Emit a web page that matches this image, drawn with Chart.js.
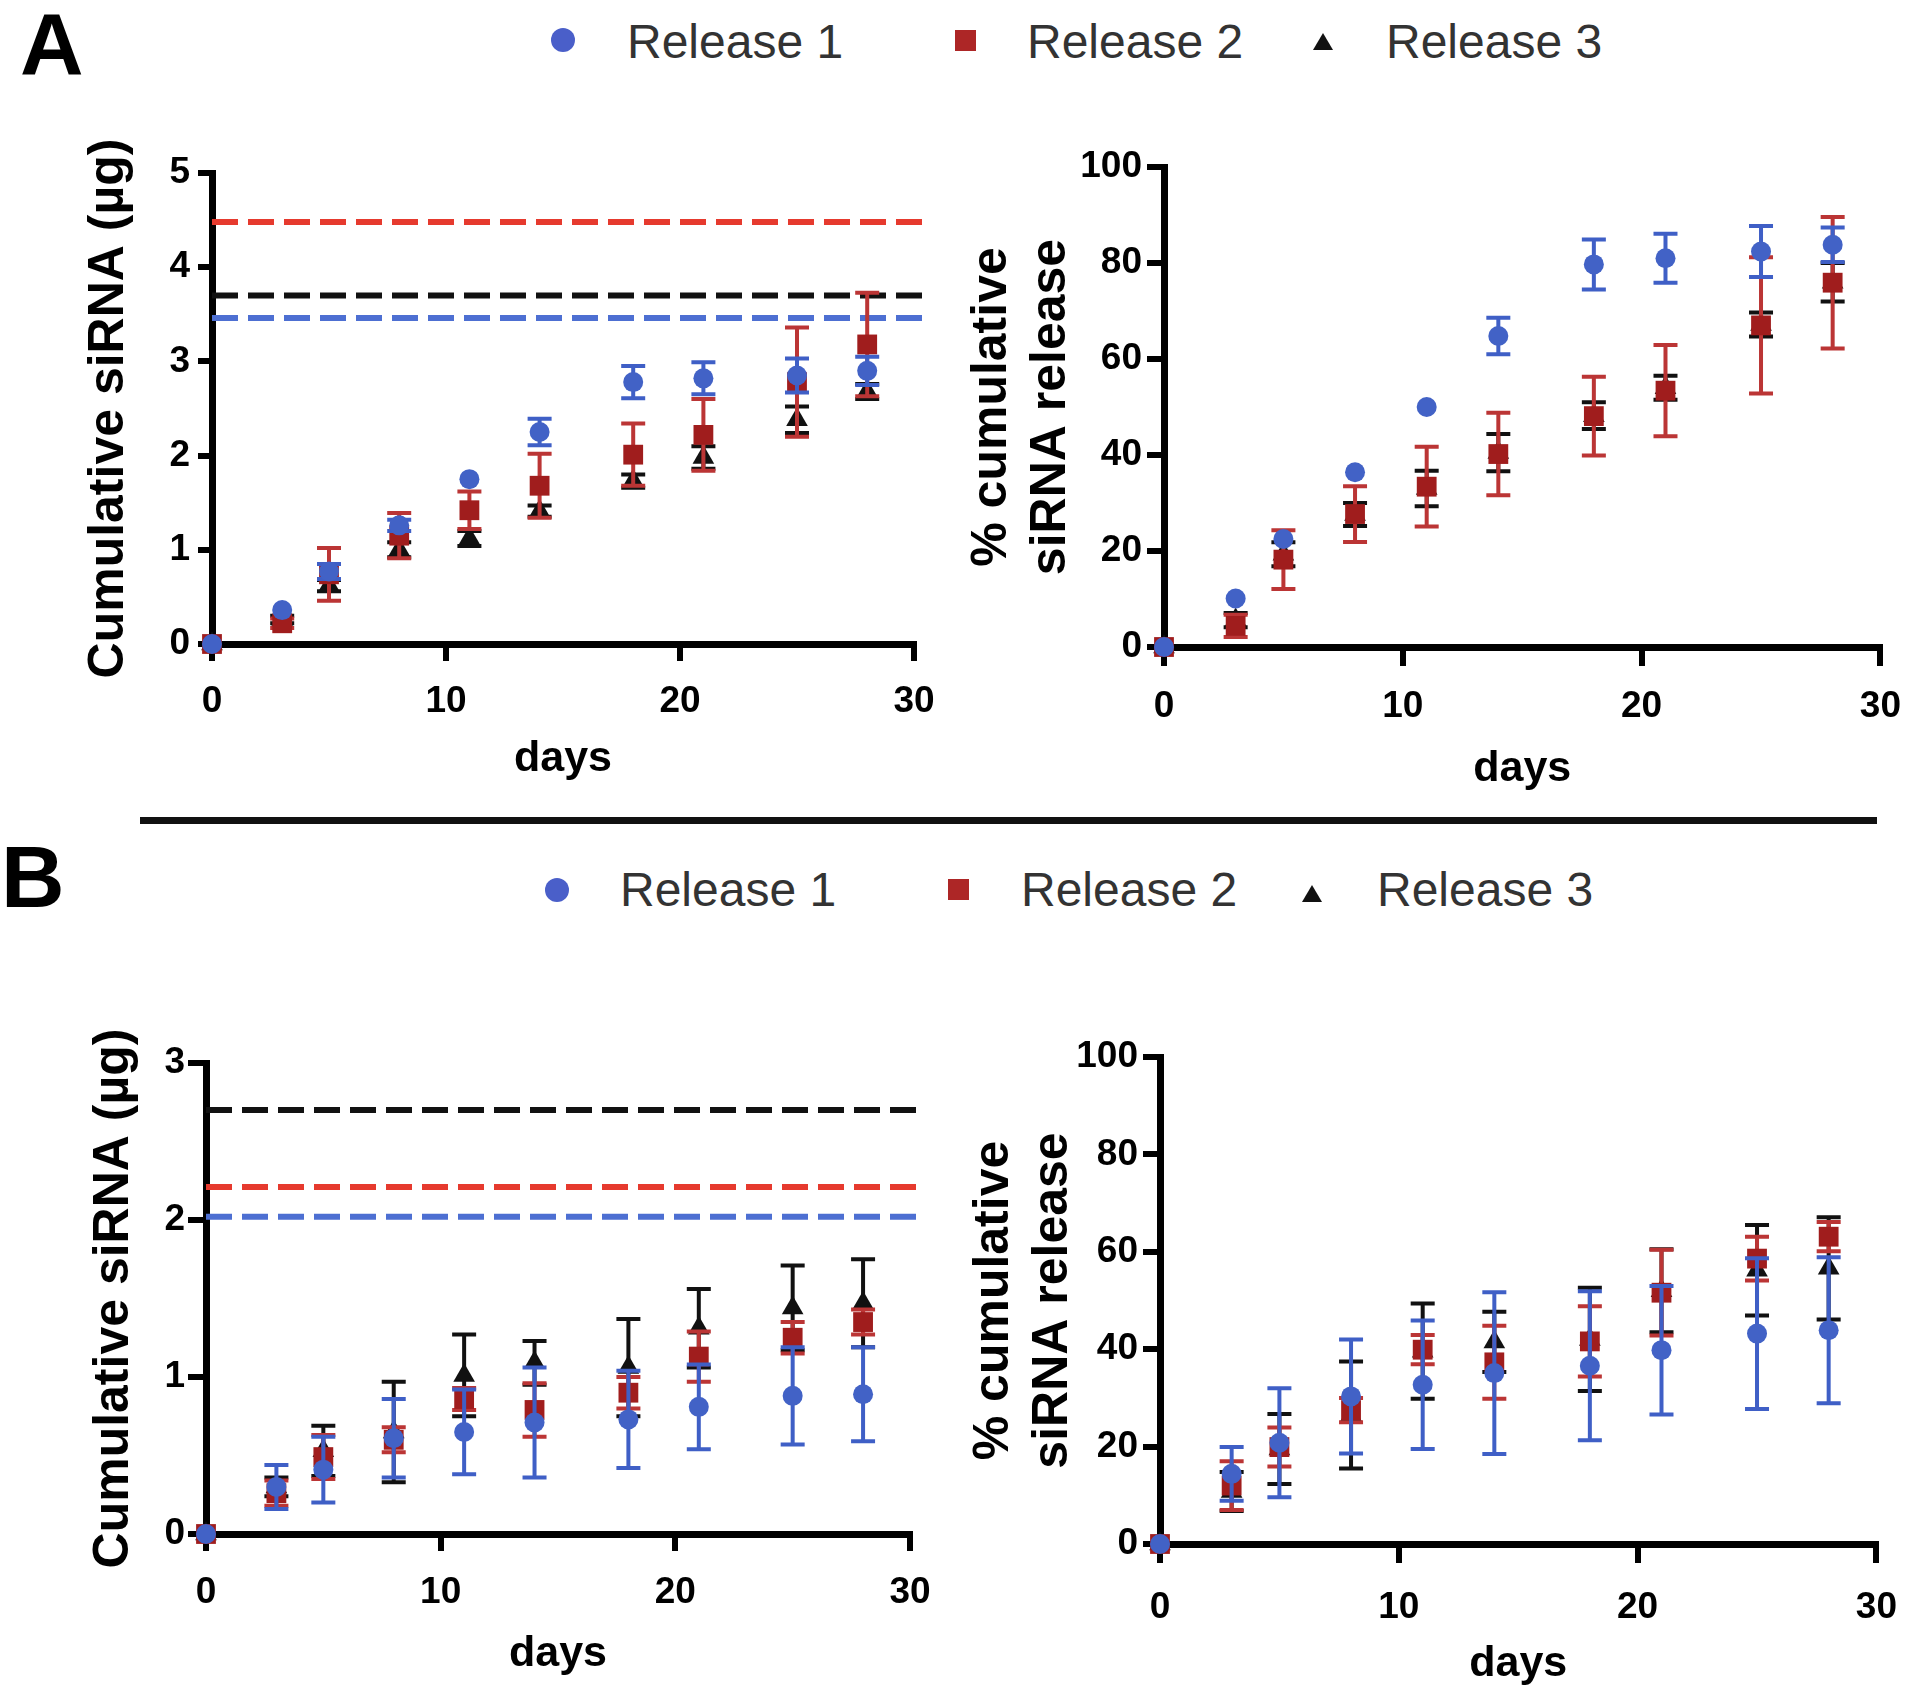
<!DOCTYPE html>
<html>
<head>
<meta charset="utf-8">
<script src="https://cdn.jsdelivr.net/npm/chart.js@4.4.1/dist/chart.umd.min.js"></script>
<style>
    body { margin: 0; background: #fff; width: 1920px; height: 1694px; position: relative; overflow: hidden; font-family: "Liberation Sans", Arial, sans-serif; }
    canvas { position: absolute; }
    .tag { position: absolute; font-weight: bold; font-size: 88px; line-height: 1; color: #000; }
    .leg { position: absolute; font-size: 48px; line-height: 1; color: #333; white-space: nowrap; }
    .dot { position: absolute; width: 24px; height: 24px; border-radius: 50%; background: #4a5fc9; }
    .sq { position: absolute; width: 21px; height: 21px; background: #ad2626; }
    .tri { position: absolute; width: 0; height: 0; border-left: 10px solid transparent; border-right: 10px solid transparent; border-bottom: 17px solid #111; }
    .sep { position: absolute; left: 140px; top: 817px; width: 1737px; height: 7px; background: #111; }
</style>
</head>
<body>

<div class="tag" style="left:20px; top:0px;">A</div>
<div class="dot" style="left:551px; top:28px;"></div>
<div class="leg" style="left:627px; top:18px;">Release 1</div>
<div class="sq" style="left:955px; top:30px;"></div>
<div class="leg" style="left:1027px; top:18px;">Release 2</div>
<div class="tri" style="left:1313px; top:33px;"></div>
<div class="leg" style="left:1386px; top:18px;">Release 3</div>

<div class="sep"></div>

<div class="tag" style="left:1px; top:833px;">B</div>
<div class="dot" style="left:545px; top:878px;"></div>
<div class="leg" style="left:620px; top:866px;">Release 1</div>
<div class="sq" style="left:948px; top:879px;"></div>
<div class="leg" style="left:1021px; top:866px;">Release 2</div>
<div class="tri" style="left:1302px; top:885px;"></div>
<div class="leg" style="left:1377px; top:866px;">Release 3</div>

<canvas id="aUg" width="960" height="700" style="left:0px; top:100px;"></canvas>
<canvas id="aPct" width="960" height="700" style="left:960px; top:100px;"></canvas>
<canvas id="bUg" width="960" height="734" style="left:0px; top:960px;"></canvas>
<canvas id="bPct" width="960" height="734" style="left:960px; top:960px;"></canvas>

<script>
// sampling days (same for every panel)
const days = [0, 3, 5, 8, 11, 14, 18, 21, 25, 28];

// ---- A: cumulative siRNA (ug) ----
const aUgR1 = [0, 0.36, 0.77, 1.26, 1.75, 2.25, 2.78, 2.82, 2.85, 2.90];
const aUgR1Sd = [0, 0, 0.08, 0.06, 0, 0.14, 0.17, 0.17, 0.18, 0.15];
const aUgR2 = [0, 0.22, 0.74, 1.15, 1.42, 1.68, 2.01, 2.22, 2.78, 3.18];
const aUgR2Sd = [0, 0.05, 0.28, 0.24, 0.20, 0.34, 0.33, 0.38, 0.58, 0.55];
const aUgR3 = [0, 0.26, 0.62, 1.00, 1.12, 1.41, 1.73, 1.98, 2.38, 2.68];
const aUgR3Sd = [0, 0.04, 0.06, 0.08, 0.08, 0.06, 0.07, 0.12, 0.14, 0.08];
const aLoaded = [3.46, 4.48, 3.70];   // total loaded per release (dashed lines)

// ---- A: % cumulative release ----
const aPctR1 = [0, 10.1, 22.5, 36.4, 50.0, 64.8, 79.7, 81.0, 82.4, 83.8];
const aPctR1Sd = [0, 0, 0, 0, 0, 3.8, 5.2, 5.1, 5.3, 3.6];
const aPctR2 = [0, 4.4, 18.2, 27.7, 33.4, 40.2, 48.1, 53.4, 67.0, 75.9];
const aPctR2Sd = [0, 2.3, 6.1, 5.8, 8.3, 8.6, 8.2, 9.5, 14.2, 13.7];
const aPctR3 = [0, 5.6, 19.3, 27.6, 33.0, 40.5, 48.2, 54.0, 67.2, 76.0];
const aPctR3Sd = [0, 1.5, 2.5, 2.4, 3.7, 3.9, 2.8, 2.5, 2.5, 4.0];

// ---- B: cumulative siRNA (ug) ----
const bUgR1 = [0, 0.30, 0.41, 0.61, 0.65, 0.71, 0.73, 0.81, 0.88, 0.89];
const bUgR1Sd = [0, 0.14, 0.21, 0.25, 0.27, 0.35, 0.31, 0.27, 0.31, 0.30];
const bUgR2 = [0, 0.26, 0.49, 0.60, 0.86, 0.79, 0.90, 1.13, 1.25, 1.35];
const bUgR2Sd = [0, 0.08, 0.14, 0.08, 0.07, 0.17, 0.10, 0.16, 0.10, 0.08];
const bUgR3 = [0, 0.30, 0.53, 0.65, 1.01, 1.09, 1.06, 1.31, 1.44, 1.47];
const bUgR3Sd = [0, 0.06, 0.16, 0.32, 0.26, 0.14, 0.31, 0.25, 0.27, 0.28];
const bLoaded = [2.02, 2.21, 2.70];

// ---- B: % cumulative release ----
const bPctR1 = [0, 14.4, 20.8, 30.3, 32.7, 35.1, 36.6, 39.8, 43.2, 43.9];
const bPctR1Sd = [0, 5.5, 11.2, 11.7, 13.2, 16.6, 15.3, 13.2, 15.5, 15.0];
const bPctR2 = [0, 12.0, 19.9, 27.5, 39.9, 37.3, 41.6, 51.6, 58.6, 63.1];
const bPctR2Sd = [0, 5.0, 4.0, 2.5, 3.0, 7.5, 7.2, 8.8, 4.5, 3.0];
const bPctR3 = [0, 10.8, 19.5, 26.5, 39.6, 41.5, 42.0, 52.0, 56.2, 56.6];
const bPctR3Sd = [0, 4.0, 7.2, 11.0, 9.8, 6.2, 10.6, 8.5, 9.3, 10.5];

const seriesNames = ["Release 1", "Release 2", "Release 3"];
const pointColors = ["#4262c6", "#a01d1d", "#111111"];
const barColors = ["#3f5fc6", "#bb3535", "#111111"];
const refColors = ["#4d6fd2", "#e63a2e", "#111111"];
const pointStyles = ["circle", "rect", "triangle"];
const pointSizes = [10, 14, 12.5];

const FONT = "'Liberation Sans', Arial, sans-serif";

// error bars with caps, drawn just under each dataset's markers
const errorBars = {
    id: "errorBars",
    beforeDatasetDraw(chart, args) {
        const ds = chart.data.datasets[args.index];
        if (!ds.errors) return;
        const { ctx, scales: { x, y } } = chart;
        ctx.save();
        ctx.strokeStyle = ds.errorColor;
        ctx.lineWidth = 4;
        ds.data.forEach((p, i) => {
            const e = ds.errors[i];
            if (!e) return;
            const px = x.getPixelForValue(p.x);
            const top = y.getPixelForValue(p.y + e);
            const bot = y.getPixelForValue(p.y - e);
            ctx.beginPath();
            ctx.moveTo(px, top); ctx.lineTo(px, bot);
            ctx.moveTo(px - 12, top); ctx.lineTo(px + 12, top);
            ctx.moveTo(px - 12, bot); ctx.lineTo(px + 12, bot);
            ctx.stroke();
        });
        ctx.restore();
    }
};

function makePanel(id, o) {
    const datasets = o.values.map((vals, k) => ({
        label: seriesNames[k],
        data: days.map((d, i) => ({ x: d, y: vals[i] })),
        errors: o.errors[k],
        errorColor: barColors[k],
        pointStyle: pointStyles[k],
        pointRadius: pointSizes[k],
        backgroundColor: pointColors[k],
        borderColor: pointColors[k],
        borderWidth: 0,
        showLine: false,
        clip: false
    }));

    if (o.refs) {
        o.refs.forEach((v, k) => datasets.push({
            type: "line",
            data: [{ x: 0, y: v }, { x: 30.4, y: v }],
            borderColor: refColors[k],
            borderWidth: 6,
            borderDash: [26, 10],
            pointRadius: 0,
            showLine: true,
            clip: false
        }));
    }

    const tickFont = { family: FONT, size: 37, weight: "bold" };

    new Chart(document.getElementById(id), {
        type: "scatter",
        data: { datasets },
        plugins: [errorBars],
        options: {
            responsive: false,
            animation: false,
            events: [],
            layout: { padding: { top: o.padT, right: o.padR, left: 0, bottom: 0 } },
            plugins: { legend: { display: false }, tooltip: { enabled: false } },
            scales: {
                x: {
                    type: "linear", min: 0, max: 30,
                    afterFit: s => { s.height = o.xH; },
                    ticks: { stepSize: 10, font: tickFont, color: "#000", padding: o.xPad, maxRotation: 0, autoSkip: false },
                    grid: { drawOnChartArea: false, tickLength: o.xTick, tickWidth: 6, tickColor: "#000", color: "#000", lineWidth: 6 },
                    border: { color: "#000", width: 7 },
                    title: {
                        display: true, text: "days", color: "#000",
                        font: { family: FONT, size: 43, weight: "bold", lineHeight: 1.18 },
                        padding: { top: 0, bottom: o.xTitlePad }
                    }
                },
                y: {
                    type: "linear", min: 0, max: o.yMax,
                    afterFit: s => { s.width = o.yW; },
                    ticks: { stepSize: o.yStep, font: tickFont, color: "#000", padding: o.yPad },
                    grid: { drawOnChartArea: false, tickLength: o.yTick, tickWidth: 6, tickColor: "#000", color: "#000", lineWidth: 6 },
                    border: { color: "#000", width: 7 },
                    title: {
                        display: true, text: o.yTitle, color: "#000",
                        font: { family: FONT, size: 50, weight: "bold", lineHeight: 1.18 },
                        padding: { top: o.yTitlePad, bottom: 0 }
                    }
                }
            }
        }
    });
}

makePanel("aUg", {
    values: [aUgR1, aUgR2, aUgR3], errors: [aUgR1Sd, aUgR2Sd, aUgR3Sd], refs: aLoaded,
    yMax: 5, yStep: 1, yTitle: "Cumulative siRNA (µg)",
    yW: 212, xH: 156, padT: 73, padR: 46,
    yTick: 14, yPad: 8, xTick: 17, xPad: 19, yTitlePad: 80, xTitlePad: 15
});

makePanel("aPct", {
    values: [aPctR1, aPctR2, aPctR3], errors: [aPctR1Sd, aPctR2Sd, aPctR3Sd],
    yMax: 100, yStep: 20, yTitle: ["% cumulative", "siRNA release"],
    yW: 204, xH: 153, padT: 67, padR: 33,
    yTick: 17, yPad: 5, xTick: 19, xPad: 19, yTitlePad: 3, xTitlePad: 5
});

makePanel("bUg", {
    values: [bUgR1, bUgR2, bUgR3], errors: [bUgR1Sd, bUgR2Sd, bUgR3Sd], refs: bLoaded,
    yMax: 3, yStep: 1, yTitle: "Cumulative siRNA (µg)",
    yW: 206, xH: 160, padT: 103, padR: 50,
    yTick: 18, yPad: 3, xTick: 17, xPad: 20, yTitlePad: 85, xTitlePad: 14
});

makePanel("bPct", {
    values: [bPctR1, bPctR2, bPctR3], errors: [bPctR1Sd, bPctR2Sd, bPctR3Sd],
    yMax: 100, yStep: 20, yTitle: ["% cumulative", "siRNA release"],
    yW: 200, xH: 150, padT: 97, padR: 36,
    yTick: 17, yPad: 5, xTick: 19, xPad: 23, yTitlePad: 5, xTitlePad: 4
});
</script>
</body>
</html>
